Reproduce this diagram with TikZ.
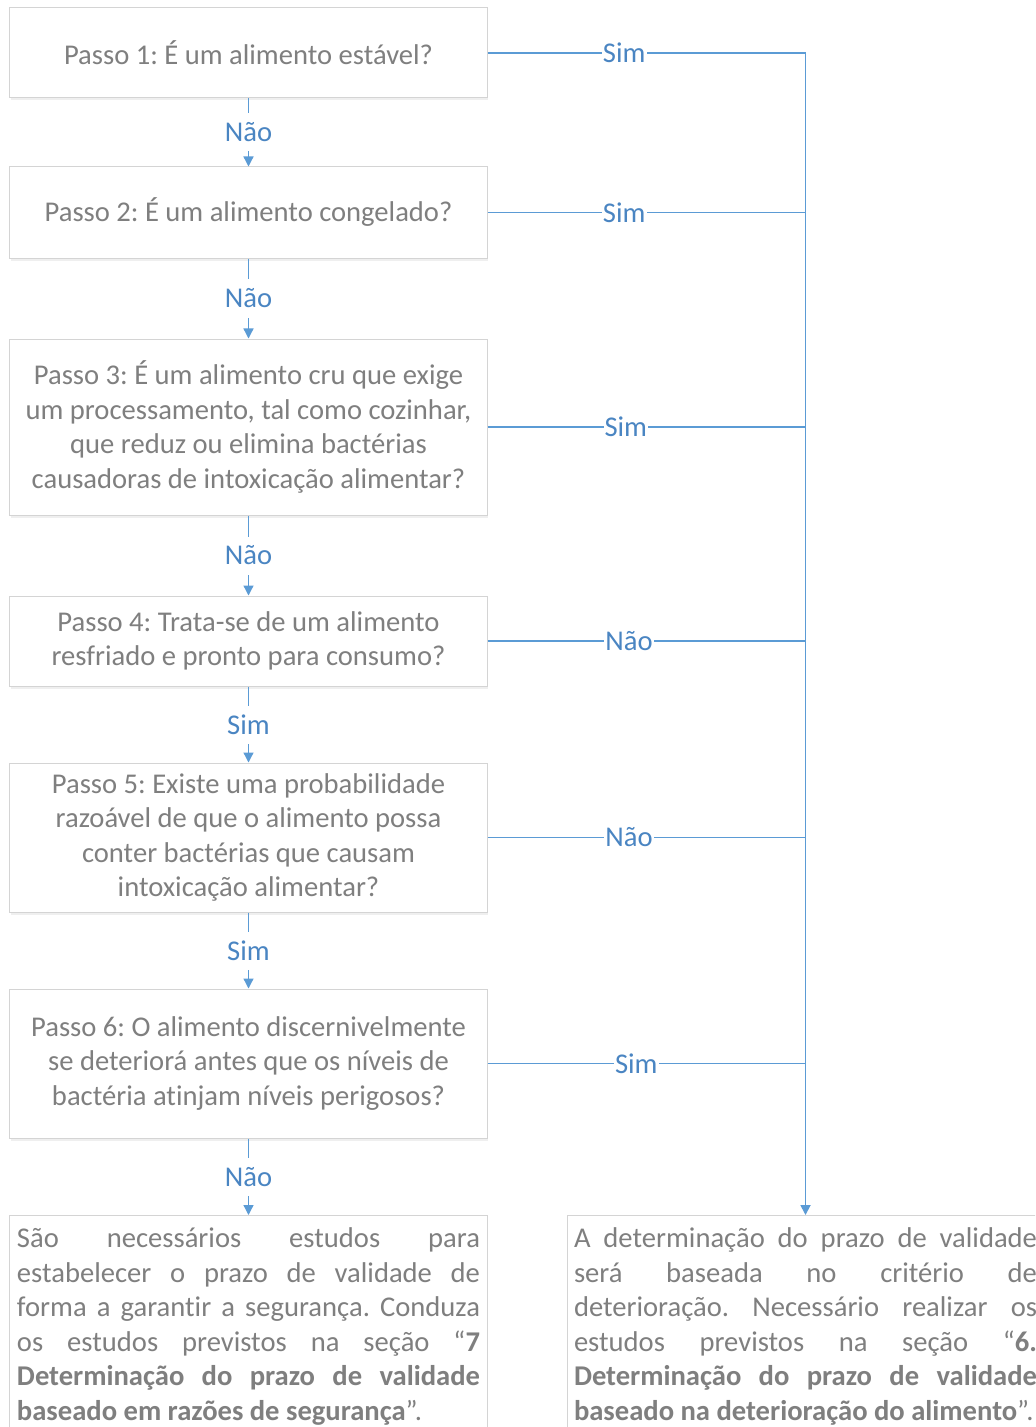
\documentclass[tikz,border=0pt]{standalone}
\usepackage{fontspec}
\setmainfont{Carlito}[Ligatures=CommonOff]
\usetikzlibrary{arrows.meta,shadows}
\definecolor{txtgray}{HTML}{7F7F7F}
\definecolor{lineblue}{HTML}{5B9BD5}
\definecolor{lblblue}{HTML}{4A85C2}
\definecolor{boxgray}{HTML}{D4D4D4}
\newcommand\mybodyfont{\fontsize{28.6bp}{34.6bp}\selectfont\frenchspacing}
\newcommand\jline[1]{\hbox to 463bp{#1}}
\newcommand\G{\hfill}
\begin{document}
\begin{tikzpicture}[x=1bp,y=-1bp,
  stepbox/.style={draw=boxgray, line width=1bp, fill=white, minimum width=477bp,
    text=txtgray, align=center, font=\mybodyfont, inner sep=0pt,
    drop shadow={shadow xshift=0.8bp, shadow yshift=-2.5bp, opacity=0.12}},
  endbox/.style={draw=boxgray, line width=1bp, fill=white, minimum width=477bp,
    inner xsep=7bp, inner ysep=7bp, text=txtgray, font=\mybodyfont, anchor=north},
  conn/.style={draw=lineblue, line width=1.3bp},
  arr/.style={-{Triangle[width=10bp,length=10bp]}},
  vlabel/.style={fill=white, text=lblblue, font=\mybodyfont, inner xsep=2bp, inner ysep=0pt, minimum height=38bp},
  hlabel/.style={fill=white, text=lblblue, font=\mybodyfont, inner xsep=1bp, inner ysep=2bp},
]
\useasboundingbox (0,0) rectangle (1035,1427);
\clip (0,0) rectangle (1035,1427);
\fill[white] (0,0) rectangle (1035,1427);

\node[stepbox, minimum height=90bp] (b1) at (248.5,53) {Passo 1: É um alimento estável?};
\node[stepbox, minimum height=91bp] (b2) at (248.5,212.5) {Passo 2: É um alimento congelado?};
\node[stepbox, minimum height=176bp] (b3) at (248.5,427) {Passo 3: É um alimento cru que exige\\um processamento, tal como cozinhar,\\que reduz ou elimina bactérias\\causadoras de intoxicação alimentar?};
\node[stepbox, minimum height=90bp] (b4) at (248.5,641) {Passo 4: Trata-se de um alimento\\resfriado e pronto para consumo?};
\node[stepbox, minimum height=149bp] (b5) at (248.5,837.5) {Passo 5: Existe uma probabilidade\\razoável de que o alimento possa\\conter bactérias que causam\\intoxicação alimentar?};
\node[stepbox, minimum height=149bp] (b6) at (248.5,1063.5) {Passo 6: O alimento discernivelmente\\se deteriorá antes que os níveis de\\bactéria atinjam níveis perigosos?};

\node[endbox] (lb) at (248.5,1215) {\vbox{\hsize=463bp
\jline{\rule{0pt}{25bp}São\G necessários\G estudos\G para}
\jline{estabelecer\G o\G prazo\G de\G validade\G de}
\jline{forma\G a\G garantir\G a\G segurança.\G Conduza}
\jline{os\G estudos\G previstos\G na\G seção\G “\textbf{7}}
\jline{\textbf{Determinação\G do\G prazo\G de\G validade}}
\hbox{\textbf{baseado em razões de segurança}”.}}};

\node[endbox] (rb) at (805.5,1215) {\vbox{\hsize=463bp
\jline{\rule{0pt}{25bp}A\G determinação\G do\G prazo\G de\G validade}
\jline{será\G baseada\G no\G critério\G de}
\jline{deterioração.\G Necessário\G realizar\G os}
\jline{estudos\G previstos\G na\G seção\G “\textbf{6.}}
\jline{\textbf{Determinação\G do\G prazo\G de\G validade}}
\hbox{\textbf{baseado na deterioração do alimento}”.}}};

% vertical flow
\draw[conn, arr] (b1.south) -- node[vlabel] {Não} (b2.north);
\draw[conn, arr] (b2.south) -- node[vlabel] {Não} (b3.north);
\draw[conn, arr] (b3.south) -- node[vlabel] {Não} (b4.north);
\draw[conn, arr] (b4.south) -- node[vlabel] {Sim} (b5.north);
\draw[conn, arr] (b5.south) -- node[vlabel] {Sim} (b6.north);
\draw[conn, arr] (b6.south) -- node[vlabel] {Não} (lb.north);

% side branches
\coordinate (c1) at (b1.east -| rb.north);
\draw[conn] (b1.east) -- node[hlabel, pos=0.43] {Sim} (c1);
\draw[conn] (b2.east) -- node[hlabel, pos=0.43] {Sim} (b2.east -| rb.north);
\draw[conn] (b3.east) -- node[hlabel, pos=0.435] {Sim} (b3.east -| rb.north);
\draw[conn] (b4.east) -- node[hlabel, pos=0.445] {Não} (b4.east -| rb.north);
\draw[conn] (b5.east) -- node[hlabel, pos=0.445] {Não} (b5.east -| rb.north);
\draw[conn] (b6.east) -- node[hlabel, pos=0.468] {Sim} (b6.east -| rb.north);
\draw[conn, line width=1.8bp, arr] ([yshift=0.65bp]c1) -- (rb.north);
\end{tikzpicture}
\end{document}
